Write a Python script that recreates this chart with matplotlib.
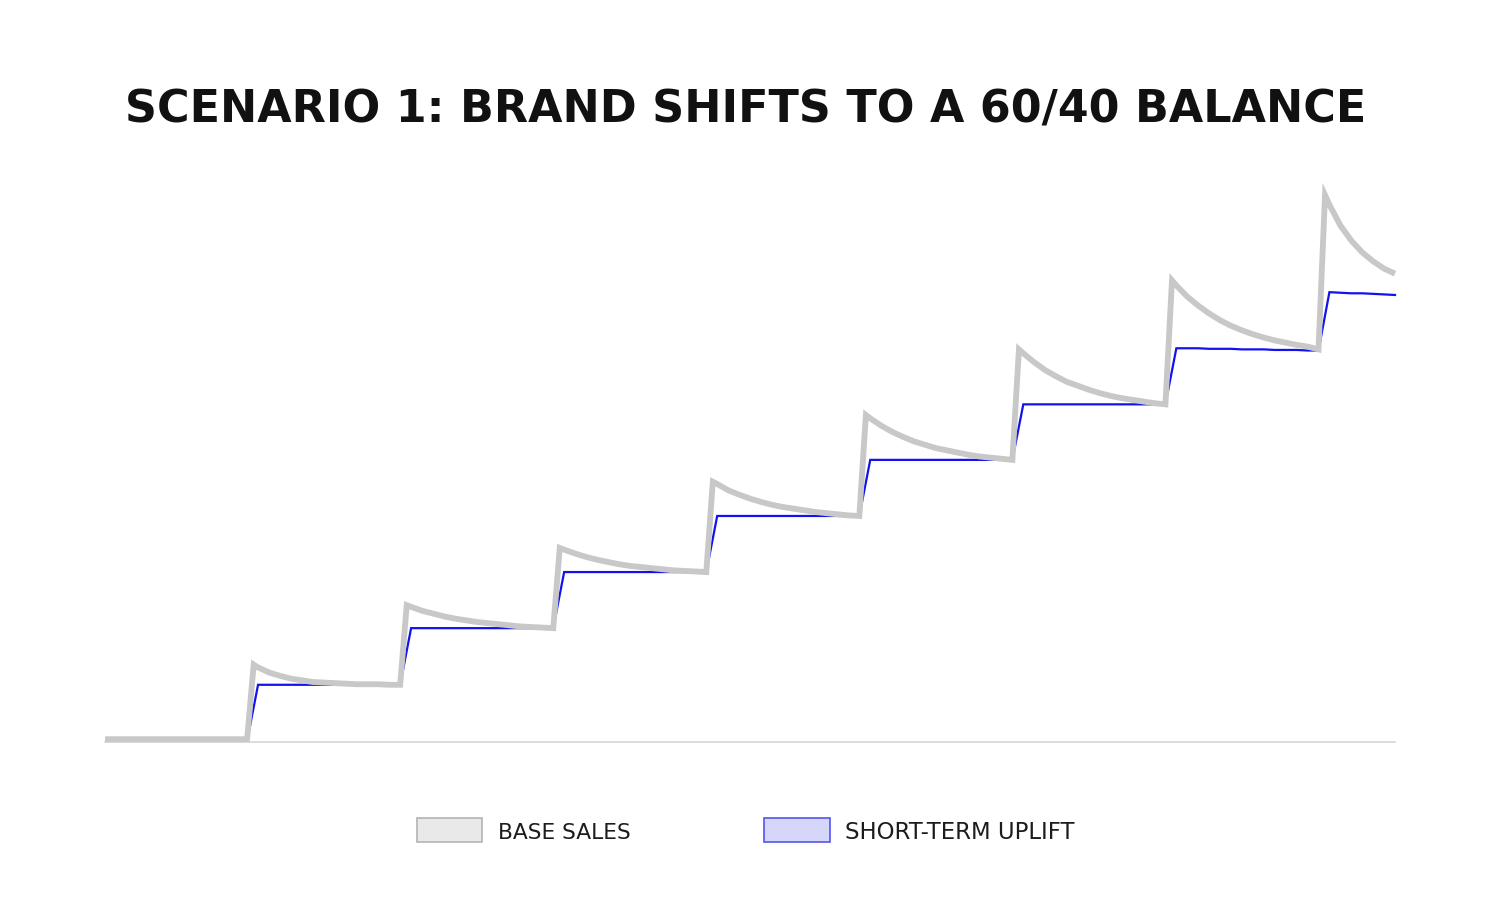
import matplotlib
matplotlib.use("Agg")
import matplotlib.pyplot as plt
from matplotlib.patches import Rectangle

# ---------------- data ----------------
title = "SCENARIO 1: BRAND SHIFTS TO A 60/40 BALANCE"
legend_labels = ["BASE SALES", "SHORT-TERM UPLIFT"]

# week index at which each campaign step begins
step_starts = [13, 27, 41, 55, 69, 83, 97, 111]

# short-term uplift (blue step line), weeks 8..118
blue_weeks = list(range(8, 119))
blue_sales = (
    [0.00] * 6
    + [1.00] * 14
    + [2.01] * 14
    + [3.01] * 14
    + [4.01] * 14
    + [5.01] * 14
    + [6.00] * 14
    + [7.00, 7.00, 7.00, 6.99, 6.99, 6.99, 6.98, 6.98, 6.98, 6.97, 6.97, 6.97, 6.96, 6.96]
    + [8.00, 7.99, 7.98, 7.98, 7.97, 7.96, 7.95]
)

# base sales (grey line) before the first step, weeks 0..12
grey_flat = [0.03] * 13
# per step: value at step start, peak, then weeks +1..+13
grey_p1 = [0.03, 1.36, 1.31, 1.22, 1.16, 1.11, 1.08, 1.05, 1.04, 1.03, 1.02, 1.01, 1.01, 1.01, 1.00]
grey_p2 = [1.00, 2.42, 2.39, 2.32, 2.27, 2.22, 2.18, 2.15, 2.12, 2.10, 2.08, 2.06, 2.04, 2.03, 2.02]
grey_p3 = [2.01, 3.44, 3.41, 3.34, 3.28, 3.23, 3.19, 3.15, 3.12, 3.10, 3.08, 3.06, 3.04, 3.03, 3.02]
grey_p4 = [3.01, 4.62, 4.58, 4.47, 4.39, 4.32, 4.26, 4.21, 4.17, 4.14, 4.11, 4.08, 4.06, 4.04, 4.02]
grey_p5 = [4.01, 5.81, 5.75, 5.62, 5.51, 5.42, 5.34, 5.28, 5.22, 5.18, 5.14, 5.10, 5.07, 5.05, 5.03]
grey_p6 = [5.01, 6.98, 6.91, 6.75, 6.61, 6.50, 6.40, 6.33, 6.26, 6.20, 6.15, 6.11, 6.08, 6.05, 6.02]
grey_p7 = [6.00, 8.21, 8.12, 7.92, 7.76, 7.62, 7.50, 7.40, 7.32, 7.25, 7.19, 7.14, 7.10, 7.06, 7.03]
grey_p8 = [6.98, 9.73, 9.56, 9.19, 8.92, 8.71, 8.55, 8.42, 8.33]
grey_periods = [grey_p1, grey_p2, grey_p3, grey_p4, grey_p5, grey_p6, grey_p7, grey_p8]
# week offsets from step start for the grey points (peak lands 0.6 week after start)
grey_offsets = [0, 0.6] + list(range(1, 14))

# ---------------- build grey x/y ----------------
grey_x = list(range(0, 13))
grey_y = list(grey_flat)
for s, vals in zip(step_starts, grey_periods):
    grey_x += [s + o for o in grey_offsets[:len(vals)]]
    grey_y += vals

# ---------------- figure ----------------
W, H = 1500, 912
fig = plt.figure(figsize=(W / 100, H / 100), dpi=100)
fig.patch.set_facecolor("white")

ax_left, ax_right = 105, 1395
ax_bottom_px, ax_top_px = 743, 181
ax = fig.add_axes([ax_left / W, (H - ax_bottom_px) / H,
                   (ax_right - ax_left) / W, (ax_bottom_px - ax_top_px) / H])
ax.set_xlim(0, 118)
ax.set_ylim(-0.02, 10)
for side in ["left", "right", "top"]:
    ax.spines[side].set_visible(False)
ax.spines["bottom"].set_color("#d2d2d2")
ax.spines["bottom"].set_linewidth(1.1)
ax.set_xticks([])
ax.set_yticks([])
ax.set_facecolor("none")

ax.plot(blue_weeks, blue_sales, color="#1212f0", lw=1.6, zorder=2,
        solid_joinstyle="miter", clip_on=False)
ax.plot(grey_x, grey_y, color="#c8c8c8", lw=4.2, zorder=3,
        solid_joinstyle="miter", solid_capstyle="butt", clip_on=False)

# ---------------- title ----------------
renderer = fig.canvas.get_renderer()

def fit_text(x_px, base_px, s, target_w, size, **kw):
    t = fig.text(x_px / W, (H - base_px) / H, s, va="baseline", fontsize=size, **kw)
    bb = t.get_window_extent(renderer)
    t.set_fontsize(size * target_w / bb.width)
    return t

fit_text(745.5, 122, title, 1241, 36, ha="center", fontweight="heavy",
         family=["DejaVu Sans"], color="#111111")

# ---------------- legend ----------------
fig.add_artist(Rectangle((417 / W, (H - 843) / H), 65 / W, 24 / H,
                         transform=fig.transFigure, fc="#e9e9e9", ec="#b4b4b4", lw=1.2))
fig.add_artist(Rectangle((764 / W, (H - 843) / H), 66 / W, 24 / H,
                         transform=fig.transFigure, fc="#d6d6fa", ec="#5555ee", lw=1.2))
fit_text(498, 839, legend_labels[0], 133, 16, ha="left", family=["DejaVu Sans"], color="#1c1c1c")
fit_text(845, 839, legend_labels[1], 229, 16, ha="left", family=["DejaVu Sans"], color="#1c1c1c")

fig.savefig("out.png", dpi=100, facecolor="white")
